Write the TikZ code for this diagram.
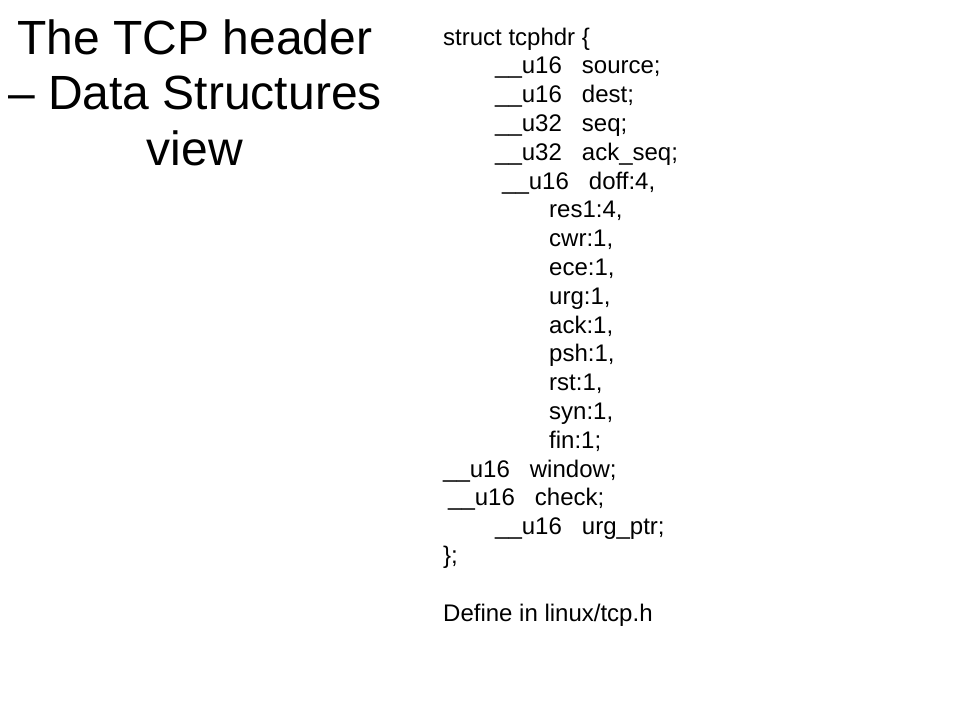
\documentclass[tikz,border=0pt]{standalone}
\usepackage{fontspec}
\setmainfont{Liberation Sans}
\usepackage{tikz}

\tikzset{
  heading/.style={align=center,inner sep=0pt,font=\fontsize{48}{55.5}\selectfont},
  codeline/.style={anchor=base west,inner sep=0pt,font=\fontsize{24}{29}\selectfont}
}
\newcommand{\fieldgap}{\hspace{20pt}}

\begin{document}
\begin{tikzpicture}[x=1pt,y=-1pt]
		\useasboundingbox (0,0) rectangle (960,720);
		\node[heading] (title) at (195,92.5) {The TCP header\\– Data Structures\\view};
		\node[codeline] (l0) at (443,45) {struct tcphdr \{};
		\node[codeline] (l1) at (495,73.8) {\_\_u16\fieldgap source;};
		\node[codeline] (l2) at (495,102.6) {\_\_u16\fieldgap dest;};
		\node[codeline] (l3) at (495,131.4) {\_\_u32\fieldgap seq;};
		\node[codeline] (l4) at (495,160.2) {\_\_u32\fieldgap ack\_seq;};
		\node[codeline] (l5) at (502,189) {\_\_u16\fieldgap doff:4,};
		\foreach \i/\t in {6/{res1:4,},7/{cwr:1,},8/{ece:1,},9/{urg:1,},10/{ack:1,},
			11/{psh:1,},12/{rst:1,},13/{syn:1,},14/{fin:1;}}
			\node[codeline] (l\i) at (549,45+28.8*\i) {\t};
		\node[codeline] (l15) at (443,477) {\_\_u16\fieldgap window;};
		\node[codeline] (l16) at (448,505.8) {\_\_u16\fieldgap check;};
		\node[codeline] (l17) at (495,534.6) {\_\_u16\fieldgap urg\_ptr;};
		\node[codeline] (l18) at (443,563.4) {\};};
		\node[codeline] (note) at (443,621) {Define in linux/tcp.h};
	\end{tikzpicture}
\end{document}
